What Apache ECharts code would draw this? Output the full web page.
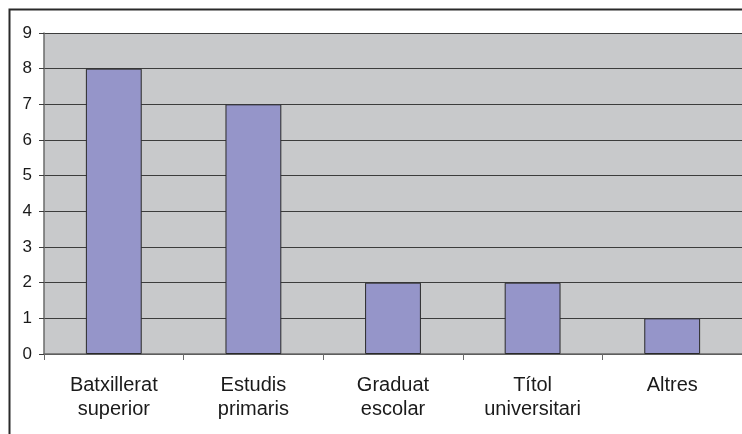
<!DOCTYPE html>
<html>
<head>
<meta charset="utf-8">
<script src="https://cdn.jsdelivr.net/npm/echarts@6/dist/echarts.min.js"></script>
<style>
  html, body { margin: 0; padding: 0; background: #fff; }
  #chart { width: 742px; height: 434px; }
</style>
</head>
<body>
<div id="chart"></div>
<script>
// categories and values
var categories = ["Batxillerat\nsuperior", "Estudis\nprimaris", "Graduat\nescolar", "Títol\nuniversitari", "Altres"];
var values = [8, 7, 2, 2, 1];
var yMax = 9;

var chart = echarts.init(document.getElementById("chart"));
chart.setOption({
  backgroundColor: "#fff",
  animation: false,
  textStyle: { fontFamily: "Liberation Sans, Arial, sans-serif" },
  graphic: [{
    type: "rect",
    silent: true,
    z: 100,
    shape: { x: 9.5, y: 9.5, width: 800, height: 500 },
    style: { fill: null, stroke: "#2a2a2a", lineWidth: 2 }
  }],
  grid: {
    left: 44,
    top: 33,
    width: 704,
    height: 321,
    show: true,
    backgroundColor: "#c8c9cb",
    borderWidth: 0
  },
  xAxis: {
    type: "category",
    data: categories,
    axisLine: { lineStyle: { color: "#6a6a6a", width: 1.5 } },
    axisTick: { show: true, length: 6, lineStyle: { color: "#6a6a6a" } },
    axisLabel: {
      color: "#1a1a1a",
      fontSize: 20,
      lineHeight: 24,
      margin: 19,
      interval: 0
    },
    splitLine: { show: false }
  },
  yAxis: {
    type: "value",
    min: 0,
    max: yMax,
    interval: 1,
    axisLine: { show: true, lineStyle: { color: "#6a6a6a", width: 1.5 } },
    axisTick: { show: true, length: 5, lineStyle: { color: "#3c3c3c" } },
    axisLabel: { color: "#1a1a1a", fontSize: 17, margin: 12 },
    splitLine: { show: true, lineStyle: { color: "#3c3c3c", width: 1 } }
  },
  series: [{
    type: "bar",
    data: values,
    barWidth: "40%",
    itemStyle: { color: "#9595c9", borderColor: "#2a2a2a", borderWidth: 1 }
  }]
});
</script>
</body>
</html>
